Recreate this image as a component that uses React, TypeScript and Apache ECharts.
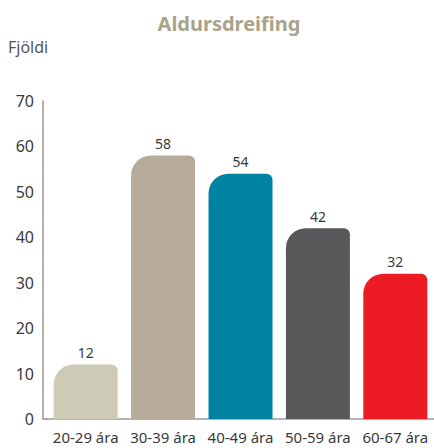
import React, { useEffect, useRef } from "react";
import * as echarts from "echarts";

const categories = ["20-29 ára", "30-39 ára", "40-49 ára", "50-59 ára", "60-67 ára"];
const values = [12, 58, 54, 42, 32];
const barColors = ["#cdcab5", "#b6aa9a", "#0083a0", "#58585a", "#ed1c24"];
const yTicks = [0, 10, 20, 30, 40, 50, 60, 70];

const FONT = "'Noto Sans', sans-serif";

export default function App() {
  const ref = useRef<HTMLDivElement>(null);
  useEffect(() => {
    if (!ref.current) return;
    const chart = echarts.init(ref.current, null, { renderer: "svg" });
    chart.setOption({
      animation: false,
      title: {
        text: "Aldursdreifing",
        left: 224,
        textAlign: "center",
        top: 8,
        textStyle: { fontFamily: FONT, fontSize: 20, fontWeight: "bold", color: "#aaa38c" },
      },
      graphic: [
        {
          type: "text",
          left: 8,
          top: 39,
          style: { text: "Fjöldi", font: `16px ${FONT}`, fill: "#555555" },
        },
        {
          type: "line",
          shape: { x1: 42.5, y1: 419, x2: 48, y2: 419 },
          style: { stroke: "#9a9a9a", lineWidth: 1.5 },
        },
      ],
      grid: { left: 47, right: -3, top: 101, bottom: 29, containLabel: false },
      xAxis: {
        type: "category",
        data: categories,
        axisLine: { show: true, lineStyle: { color: "#9a9a9a", width: 1.5 } },
        axisTick: { show: false },
        axisLabel: { interval: 0, hideOverlap: false, fontFamily: FONT, fontSize: 15, color: "#3a3a3a", margin: 10 },
      },
      yAxis: {
        type: "value",
        min: yTicks[0],
        max: yTicks[yTicks.length - 1],
        interval: 10,
        offset: 4,
        axisLine: { show: true, lineStyle: { color: "#9a9a9a", width: 1.5 } },
        axisTick: { show: false },
        splitLine: { show: false },
        axisLabel: { fontFamily: FONT, fontSize: 16, color: "#3a3a3a", margin: 9 },
      },
      series: [
        {
          type: "bar",
          barWidth: 64,
          data: values.map((v, i) => ({
            value: v,
            itemStyle: { color: barColors[i], borderRadius: [20, 6, 0, 0] },
          })),
          label: {
            show: true,
            position: "top",
            distance: 5,
            fontFamily: FONT,
            fontSize: 14,
            color: "#3a3a3a",
          },
        },
      ],
    });
    return () => chart.dispose();
  }, []);
  return <div ref={ref} style={{ width: 434, height: 448, position: "absolute", left: 0, top: 0 }} />;
}
